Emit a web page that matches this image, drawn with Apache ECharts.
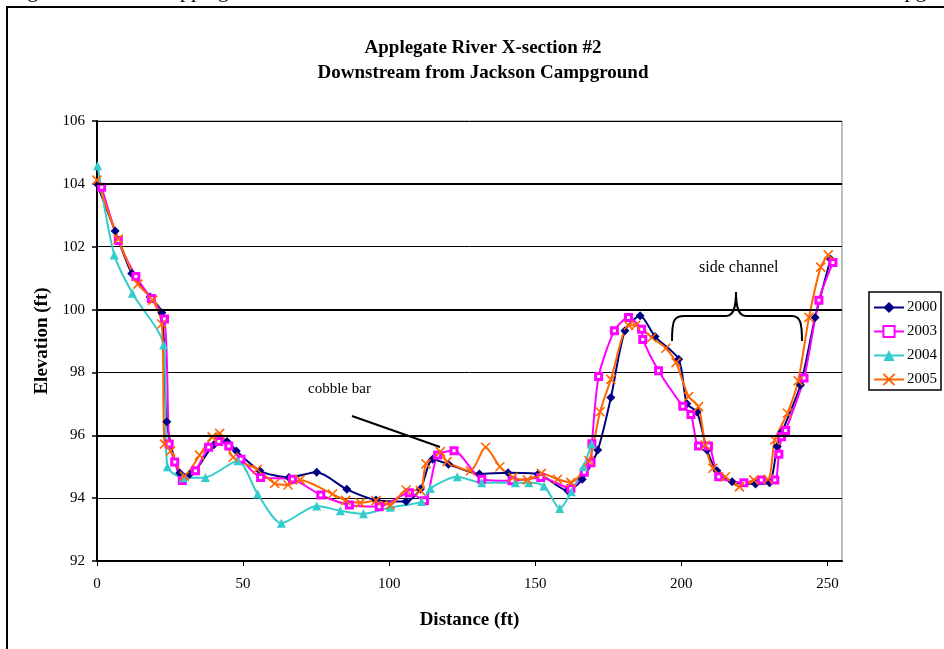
<!DOCTYPE html>
<html>
<head>
<meta charset="utf-8">
<script src="https://cdn.jsdelivr.net/npm/echarts@6/dist/echarts.min.js"></script>
<style>
  html, body { margin: 0; padding: 0; background: #ffffff; }
  #chart { width: 944px; height: 649px; }
</style>
</head>
<body>
<div id="chart"></div>
<script>
// Surveyed cross-section profiles: distance from left pin (ft) and ground elevation (ft)
const dist2000 = [0, 6.2, 11.9, 18.2, 22.2, 23.9, 28.3, 31.7, 40.0, 44.5, 47.7, 55.7, 65.7, 75.2, 85.5, 95.5, 105.8, 110.7, 114.9, 120.3, 130.9, 140.7, 151.0, 161.1, 166.1, 171.4, 175.9, 180.7, 185.9, 191.0, 199.1, 201.9, 205.4, 208.8, 212.2, 217.4, 225.4, 230.2, 232.8, 234.5, 240.8, 245.8, 251.1];
const elev2000 = [104.0, 102.5, 101.15, 100.4, 99.9, 96.43, 94.8, 94.76, 95.7, 95.8, 95.5, 94.87, 94.66, 94.82, 94.28, 93.94, 93.89, 94.29, 95.24, 95.08, 94.77, 94.81, 94.77, 94.24, 94.6, 95.53, 97.2, 99.33, 99.8, 99.14, 98.42, 97.0, 96.74, 95.53, 94.87, 94.52, 94.45, 94.49, 95.64, 96.11, 97.6, 99.75, 101.6];

const dist2003 = [1.6, 7.3, 13.3, 18.6, 23.1, 24.7, 26.6, 29.2, 33.7, 38.2, 41.7, 45.1, 49.3, 56.0, 66.9, 76.6, 86.4, 96.6, 106.9, 112.1, 116.6, 122.2, 131.7, 142.1, 151.9, 162.2, 166.8, 169.1, 169.4, 171.7, 177.1, 181.9, 186.4, 186.8, 192.2, 200.5, 203.3, 205.9, 209.3, 212.8, 221.4, 227.4, 232.0, 233.4, 234.3, 235.7, 242.0, 247.1, 251.9];
const elev2003 = [103.89, 102.2, 101.05, 100.35, 99.7, 95.72, 95.15, 94.56, 94.87, 95.62, 95.8, 95.66, 95.24, 94.66, 94.6, 94.1, 93.78, 93.73, 94.17, 93.92, 95.37, 95.51, 94.6, 94.55, 94.66, 94.31, 94.82, 95.13, 95.73, 97.87, 99.33, 99.75, 99.37, 99.05, 98.05, 96.92, 96.66, 95.66, 95.66, 94.68, 94.49, 94.58, 94.58, 95.4, 95.95, 96.15, 97.82, 100.3, 101.5];

const dist2004 = [0.2, 5.9, 12.1, 22.8, 24.1, 29.5, 37.1, 48.2, 55.0, 63.1, 75.2, 83.3, 91.2, 100.4, 111.1, 114.1, 123.3, 131.7, 143.2, 147.8, 153.0, 158.4, 162.4, 166.5, 169.3];
const elev2004 = [104.58, 101.74, 100.52, 98.87, 95.0, 94.65, 94.66, 95.19, 94.13, 93.2, 93.75, 93.6, 93.5, 93.71, 93.89, 94.31, 94.68, 94.49, 94.49, 94.49, 94.39, 93.67, 94.2, 95.0, 95.72];

const dist2005 = [0, 7.3, 14.0, 19.1, 22.2, 23.1, 25.2, 29.9, 35.1, 39.4, 42.0, 46.6, 54.8, 60.8, 65.4, 69.5, 80.6, 85.1, 90.1, 95.5, 100.4, 105.8, 110.7, 112.6, 117.5, 119.8, 127.8, 133.0, 137.9, 142.4, 147.3, 152.1, 157.6, 162.2, 168.4, 172.2, 175.9, 181.9, 184.4, 189.9, 194.7, 198.2, 202.5, 205.9, 208.2, 210.8, 215.1, 219.9, 224.8, 229.7, 232.0, 236.3, 240.0, 243.7, 247.7, 250.3];
const elev2005 = [104.12, 102.24, 100.81, 100.3, 99.54, 95.72, 95.5, 94.7, 95.37, 95.95, 96.06, 95.3, 94.92, 94.47, 94.42, 94.58, 94.13, 93.93, 93.85, 93.92, 93.78, 94.26, 94.24, 95.09, 95.48, 95.16, 94.87, 95.62, 95.0, 94.66, 94.58, 94.79, 94.6, 94.5, 95.19, 96.75, 97.78, 99.5, 99.5, 99.11, 98.77, 98.31, 97.23, 96.91, 95.69, 94.95, 94.68, 94.36, 94.58, 94.6, 95.85, 96.7, 97.73, 99.75, 101.35, 101.74];

const distTicks = [0, 50, 100, 150, 200, 250];
const heavyGrid = [96, 100, 104];

const FONT = '"Liberation Serif", "Times New Roman", serif';

function pairs(xs, ys) {
  return xs.map((x, i) => [x, ys[i]]);
}

const chart = echarts.init(document.getElementById('chart'), null, { renderer: 'canvas' });

function profile(name, xs, ys, color, symbol, size, itemStyle) {
  return {
    name: name,
    type: 'line',
    data: pairs(xs, ys),
    smooth: 0.25,
    symbol: symbol,
    symbolSize: size,
    showAllSymbol: true,
    color: color,
    lineStyle: { color: color, width: 2 },
    itemStyle: itemStyle,
    z: 3
  };
}

const plain = (extra) => Object.assign({ silent: true }, extra);

const option = {
  animation: false,
  textStyle: { fontFamily: FONT, color: '#000' },
  title: {
    text: 'Applegate River X-section #2\nDownstream from Jackson Campground',
    left: 478,
    top: 31,
    textAlign: 'center',
    textStyle: { fontFamily: FONT, fontWeight: 'bold', fontSize: 19, lineHeight: 25, color: '#000' }
  },
  legend: {
    orient: 'vertical',
    left: 869,
    top: 292,
    padding: [8, 4, 3, 4],
    itemGap: 9,
    itemWidth: 30,
    itemHeight: 14,
    borderColor: '#000',
    borderWidth: 1.5,
    textStyle: { fontFamily: FONT, fontSize: 15, lineHeight: 15, color: '#000', padding: [0, 0, 0, -2] },
    data: ['2000', '2003', '2004', '2005']
  },
  grid: {
    left: 97, top: 121, width: 745, height: 440,
    show: true, borderColor: '#808080', borderWidth: 1, backgroundColor: '#ffffff'
  },
  xAxis: {
    type: 'value',
    min: 0, max: 255, interval: 50,
    name: 'Distance (ft)',
    nameLocation: 'middle',
    nameGap: 50,
    nameTextStyle: { fontFamily: FONT, fontWeight: 'bold', fontSize: 19, color: '#000' },
    axisLine: { lineStyle: { color: '#000', width: 2 } },
    axisTick: { show: true, inside: false, length: 5, customValues: distTicks, lineStyle: { color: '#000', width: 1 } },
    axisLabel: { customValues: distTicks, margin: 16, fontFamily: FONT, fontSize: 15, color: '#000' },
    splitLine: { show: false }
  },
  yAxis: {
    type: 'value',
    min: 92, max: 106, interval: 2,
    name: 'Elevation (ft)',
    nameLocation: 'middle',
    nameGap: 45,
    nameTextStyle: { fontFamily: FONT, fontWeight: 'bold', fontSize: 19, color: '#000' },
    axisLine: { show: true, lineStyle: { color: '#000', width: 2 } },
    axisTick: { show: true, inside: false, length: 5, lineStyle: { color: '#000', width: 1.5 } },
    axisLabel: { margin: 12, fontFamily: FONT, fontSize: 15, color: '#000' },
    splitLine: { show: true, lineStyle: { color: '#000', width: 1 } }
  },
  series: [
    {
      name: 'gridlines',
      type: 'line',
      data: [],
      z: 1,
      silent: true,
      markLine: {
        silent: true,
        symbol: 'none',
        label: { show: false },
        lineStyle: { color: '#000', width: 2, type: 'solid' },
        data: heavyGrid.map(v => ({ yAxis: v }))
      }
    },
    profile('2000', dist2000, elev2000, '#000080', 'diamond', 9, { color: '#000080' }),
    profile('2003', dist2003, elev2003, '#ff00ff', 'rect', 6, { color: '#ffffff', borderColor: '#ff00ff', borderWidth: 3 }),
    profile('2004', dist2004, elev2004, '#33cccc', 'triangle', 9, { color: '#33cccc' }),
    profile('2005', dist2005, elev2005, '#ff6600', 'path://M0,0L10,10M10,0L0,10', 9, { color: '#ff6600', borderColor: '#ff6600', borderWidth: 1.6 })
  ],
  graphic: [
    // page frame around the chart object
    plain({ type: 'rect', shape: { x: 7, y: 7, width: 1000, height: 700 }, style: { fill: 'none', stroke: '#000', lineWidth: 2 }, z: 0 }),
    // caption line above the frame, running off the top of the page
    plain({ type: 'text', x: 9, y: -20, style: { text: 'Figure', font: '22px ' + FONT, fill: '#000' } }),
    plain({ type: 'text', x: 164, y: -20, style: { text: 'Applegate', font: '22px ' + FONT, fill: '#000' } }),
    plain({ type: 'text', x: 863, y: -20, style: { text: 'Campground', font: '22px ' + FONT, fill: '#000' } }),
    // cobble bar note
    plain({ type: 'text', x: 308, y: 389, style: { text: 'cobble bar', font: '15px ' + FONT, fill: '#000', verticalAlign: 'middle' } }),
    plain({ type: 'line', shape: { x1: 352, y1: 416, x2: 440, y2: 447 }, style: { stroke: '#000', lineWidth: 2 }, z: 10 }),
    // side channel note with brace
    plain({ type: 'text', x: 699, y: 268, style: { text: 'side channel', font: '16px ' + FONT, fill: '#000', verticalAlign: 'middle' } }),
    plain({ type: 'bezierCurve', shape: { x1: 672, y1: 341, cpx1: 672, cpy1: 320, cpx2: 674, cpy2: 316, x2: 684, y2: 316 }, style: { fill: 'none', stroke: '#000', lineWidth: 2 }, z: 10 }),
    plain({ type: 'line', shape: { x1: 684, y1: 316, x2: 726, y2: 316 }, style: { stroke: '#000', lineWidth: 2 }, z: 10 }),
    plain({ type: 'bezierCurve', shape: { x1: 726, y1: 316, cpx1: 732, cpy1: 316, cpx2: 736, cpy2: 311, x2: 736, y2: 292 }, style: { fill: 'none', stroke: '#000', lineWidth: 2 }, z: 10 }),
    plain({ type: 'bezierCurve', shape: { x1: 736, y1: 292, cpx1: 736, cpy1: 311, cpx2: 740, cpy2: 316, x2: 746, y2: 316 }, style: { fill: 'none', stroke: '#000', lineWidth: 2 }, z: 10 }),
    plain({ type: 'line', shape: { x1: 746, y1: 316, x2: 792, y2: 316 }, style: { stroke: '#000', lineWidth: 2 }, z: 10 }),
    plain({ type: 'bezierCurve', shape: { x1: 792, y1: 316, cpx1: 800, cpy1: 316, cpx2: 802, cpy2: 322, x2: 802, y2: 341 }, style: { fill: 'none', stroke: '#000', lineWidth: 2 }, z: 10 })
  ]
};

chart.setOption(option);
</script>
</body>
</html>
